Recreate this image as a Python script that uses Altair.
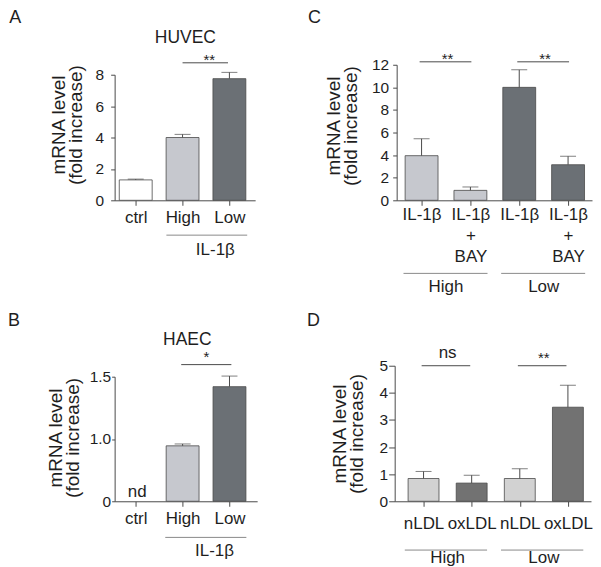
import json
import altair as alt
import pandas as pd

FONT = "Liberation Sans"
INK = "#1e1e1e"
LINE = "#4a4a4a"

SHADE_NAMES = ["white", "blue_light", "blue_dark", "grey_light", "grey_dark"]
SHADE_COLORS = ["#ffffff", "#c6c8ce", "#6b7075", "#d2d2d2", "#727272"]

Y_TITLE = ["mRNA level", "(fold increase)"]

# ---------------- data ----------------
# Panel A: HUVEC
a_labels = ["ctrl", "High", "Low"]
a_pos = [0, 1, 2]
a_mean = [1.3, 4.0, 7.75]
a_upper = [1.35, 4.2, 8.15]
a_shade = ["white", "blue_light", "blue_dark"]

# Panel B: HAEC (ctrl not detected)
b_labels = ["ctrl", "High", "Low"]
b_pos = [1, 2]
b_mean = [0.945, 1.42]
b_upper = [0.96, 1.505]
b_shade = ["blue_light", "blue_dark"]

# Panel C: IL-1beta +/- BAY
c_labels = [["IL-1β"], ["IL-1β", "+", "BAY"], ["IL-1β"], ["IL-1β", "+", "BAY"]]
c_pos = [0, 1, 2, 3]
c_mean = [3.95, 0.88, 10.0, 3.15]
c_upper = [5.45, 1.18, 11.55, 3.9]
c_shade = ["blue_light", "blue_light", "blue_dark", "blue_dark"]

# Panel D: nLDL / oxLDL
d_labels = ["nLDL", "oxLDL", "nLDL", "oxLDL"]
d_pos = [0, 1, 2, 3]
d_mean = [0.84, 0.67, 0.84, 3.47]
d_upper = [1.1, 0.96, 1.2, 4.28]
d_shade = ["grey_light", "grey_dark", "grey_light", "grey_dark"]

# significance marks: text, x-from, x-to (bar index)
a_sig = [("**", 1, 2)]
b_sig = [("*", 1, 2)]
c_sig = [("**", 0, 1), ("**", 2, 3)]
d_sig = [("ns", 0, 1), ("**", 2, 3)]

# group labels under axes
a_groups = [("IL-1β", 1, 2)]
b_groups = [("IL-1β", 1, 2)]
c_groups = [("High", 0, 1), ("Low", 2, 3)]
d_groups = [("High", 0, 1), ("Low", 2, 3)]


def shade_scale():
    return alt.Scale(domain=SHADE_NAMES, range=SHADE_COLORS)


def panel(letter, pos, mean, upper, shade, label_expr, n_ticks, lay,
          sig, sig_lay, groups, grp_lay, extra_texts):
    ppu = lay["width"] / (lay["xdom"][1] - lay["xdom"][0])
    half = lay["bar_px"] / 2 / ppu
    bars = pd.DataFrame({
        "pos": pos, "mean": mean, "upper": upper, "shade": shade,
        "left": [p - half for p in pos], "right": [p + half for p in pos],
        "base": [lay["ydom"][0]] * len(pos),
    })
    xs = alt.Scale(domain=lay["xdom"], nice=False, zero=False)
    ys = alt.Scale(domain=lay["ydom"], range=[lay["height"], lay["ytop"]], nice=False, zero=False)
    xaxis = alt.Axis(values=list(range(n_ticks)), labelExpr=label_expr, title=None,
                     tickSize=5, labelPadding=lay["xpad"], labelOverlap=False,
                     labelFlush=False, labelBound=False, grid=False, labelFontSize=17)
    ykw = dict(values=lay["yvals"], title=Y_TITLE, titleX=lay["titleX"], titleY=lay["titleY"],
               tickSize=lay["ytick"], labelPadding=lay["ypad"], grid=False,
               labelFlush=False, labelOverlap=False, labelFontSize=15.5)
    if "ylabel" in lay:
        ykw["labelExpr"] = lay["ylabel"]
    yaxis = alt.Axis(**ykw)

    def X(f):
        return alt.X(f, scale=xs, axis=xaxis)

    def Y(f):
        return alt.Y(f, scale=ys, axis=yaxis)

    base = alt.Chart(bars)
    bar_l = base.mark_bar(stroke=LINE, strokeWidth=0.8).encode(
        x=X("left:Q"), x2="right:Q", y=Y("mean:Q"), y2="base:Q",
        fill=alt.Fill("shade:N", scale=shade_scale(), legend=None),
    )
    stem = base.mark_rule(color=LINE, strokeWidth=1).encode(
        x=X("pos:Q"), y=Y("mean:Q"), y2="upper:Q")
    cap = base.mark_tick(orient="horizontal", size=16, thickness=1, color=LINE).encode(
        x=X("pos:Q"), y=Y("upper:Q"))

    sdf = pd.DataFrame({
        "t": [s[0] for s in sig],
        "x1": [s[1] + sig_lay["dx1"] for s in sig],
        "x2": [s[2] + sig_lay["dx2"] for s in sig],
        "xm": [(s[1] + s[2]) / 2 + sig_lay["dtx"] for s in sig],
        "y": [sig_lay["y"]] * len(sig),
        "ty": [sig_lay["ty"].get(s[0], sig_lay["ty"]["*"]) for s in sig],
    })
    sig_rule = alt.Chart(sdf).mark_rule(color=LINE, strokeWidth=1).encode(
        x=X("x1:Q"), x2="x2:Q", y=Y("y:Q"))
    sig_star = alt.Chart(sdf).transform_filter("indexof(datum.t, '*') >= 0").mark_text(
        font=FONT, fontSize=15, color=INK, baseline="alphabetic").encode(
        x=X("xm:Q"), y=Y("ty:Q"), text="t:N")
    sig_word = alt.Chart(sdf).transform_filter("indexof(datum.t, '*') < 0").mark_text(
        font=FONT, fontSize=17, color=INK, baseline="alphabetic").encode(
        x=X("xm:Q"), y=Y("ty:Q"), text="t:N")

    gdf = pd.DataFrame({
        "t": [g[0] for g in groups],
        "x1": [g[1] + grp_lay["dx1"] for g in groups],
        "x2": [g[2] + grp_lay["dx2"] for g in groups],
        "xm": [(g[1] + g[2]) / 2 + grp_lay["dtx"] for g in groups],
        "y": [grp_lay["y"]] * len(groups),
        "ty": [grp_lay["ty"]] * len(groups),
    })
    grp_rule = alt.Chart(gdf).mark_rule(color="#8a8a8a", strokeWidth=1).encode(
        x=X("x1:Q"), x2="x2:Q", y=Y("y:Q"))
    grp_text = alt.Chart(gdf).mark_text(font=FONT, fontSize=17, color=INK,
                                        baseline="alphabetic").encode(
        x=X("xm:Q"), y=Y("ty:Q"), text="t:N")

    layers = [bar_l, stem, cap, sig_rule, sig_star, sig_word, grp_rule, grp_text]

    if extra_texts:
        edf = pd.DataFrame(extra_texts, columns=["t", "x", "y", "size"])
        layers.append(alt.Chart(edf).mark_text(font=FONT, color=INK, baseline="alphabetic").encode(
            x=X("x:Q"), y=Y("y:Q"), text="t:N",
            size=alt.Size("size:Q", scale=None, legend=None)))

    ldf = pd.DataFrame({"t": [letter]})
    layers.append(alt.Chart(ldf).mark_text(font=FONT, fontSize=18, color=INK, align="left",
                                           baseline="alphabetic").encode(
        x=alt.value(lay["letter"][0]), y=alt.value(lay["letter"][1]), text="t:N"))

    return alt.layer(*layers).properties(width=lay["width"], height=lay["height"])


def arr_expr(labels):
    return json.dumps(labels, ensure_ascii=False) + "[datum.value]"


# ---------------- layout ----------------
lay_a = dict(width=141, height=136, ytop=10, xdom=[-0.45, 2.55], ydom=[0, 8], yvals=[0, 2, 4, 6, 8],
             bar_px=33, xpad=4, ypad=7, ytick=4, titleX=-46, titleY=60, letter=(-105.7, -41.8))
lay_b = dict(width=143, height=136, ytop=11, xdom=[-0.45, 2.59], ydom=[0.5, 1.5], yvals=[0.5, 1.0, 1.5],
             ylabel="datum.value == 0.5 ? '0' : format(datum.value, '.1f')",
             bar_px=33, xpad=4, ypad=1, ytick=3, titleX=-49, titleY=72, letter=(-107, -40.1))
lay_c = dict(width=196, height=136, ytop=0, xdom=[-0.51, 3.49], ydom=[0, 12], yvals=[0, 2, 4, 6, 8, 10, 12],
             bar_px=33, xpad=1, ypad=4, ytick=4, titleX=-53, titleY=61, letter=(-89, -41.8))
lay_d = dict(width=197, height=136, ytop=0, xdom=[-0.6, 3.48], ydom=[0, 5], yvals=[0, 1, 2, 3, 4, 5],
             bar_px=31, xpad=9, ypad=1, ytick=6, titleX=-45, titleY=68, letter=(-88, -40.1))

A = panel("A", a_pos, a_mean, a_upper, a_shade, arr_expr(a_labels), 3, lay_a,
          a_sig, dict(dx1=0.0, dx2=-0.03, dtx=0.07, y=8.76, ty={"*": 8.63}),
          a_groups, dict(dx1=-0.345, dx2=0.38, dtx=0.2, y=-2.22, ty=-3.49),
          [("HUVEC", 1.06, 10.03, 17.5)])
B = panel("B", b_pos, b_mean, b_upper, b_shade, arr_expr(b_labels), 3, lay_b,
          b_sig, dict(dx1=-0.03, dx2=0.04, dtx=0.01, y=1.597, ty={"*": 1.616}),
          b_groups, dict(dx1=-0.37, dx2=0.36, dtx=0.18, y=0.21, ty=0.064),
          [("HAEC", 1.1, 1.758, 17.5), ("nd", 0.03, 0.532, 17)])
C = panel("C", c_pos, c_mean, c_upper, c_shade, arr_expr(c_labels), 4, lay_c,
          c_sig, dict(dx1=-0.04, dx2=0.02, dtx=0.03, y=12.26, ty={"*": 12.09}),
          c_groups, dict(dx1=-0.37, dx2=0.35, dtx=0.0, y=-6.47, ty=-8.12),
          [])
D = panel("D", d_pos, d_mean, d_upper, d_shade, arr_expr(d_labels), 4, lay_d,
          d_sig, dict(dx1=-0.04, dx2=-0.03, dtx=0.0, y=5.0, ty={"*": 5.11, "ns": 5.30}),
          d_groups, dict(dx1=-0.39, dx2=0.32, dtx=0.0, y=-1.80, ty=-2.28),
          [])

chart = alt.vconcat(
    alt.hconcat(A, C, spacing=53),
    alt.hconcat(B, D, spacing=50),
    spacing=15,
).properties(padding=0).configure_view(stroke=None).configure_axis(
    labelFont=FONT, titleFont=FONT, titleFontSize=19,
    labelColor=INK, titleColor=INK, domainColor=LINE, tickColor=LINE,
    titleFontWeight="normal", labelLineHeight=21, titleLineHeight=17,
)

chart.save("out.html", embed_options={"renderer": "svg", "actions": False})
